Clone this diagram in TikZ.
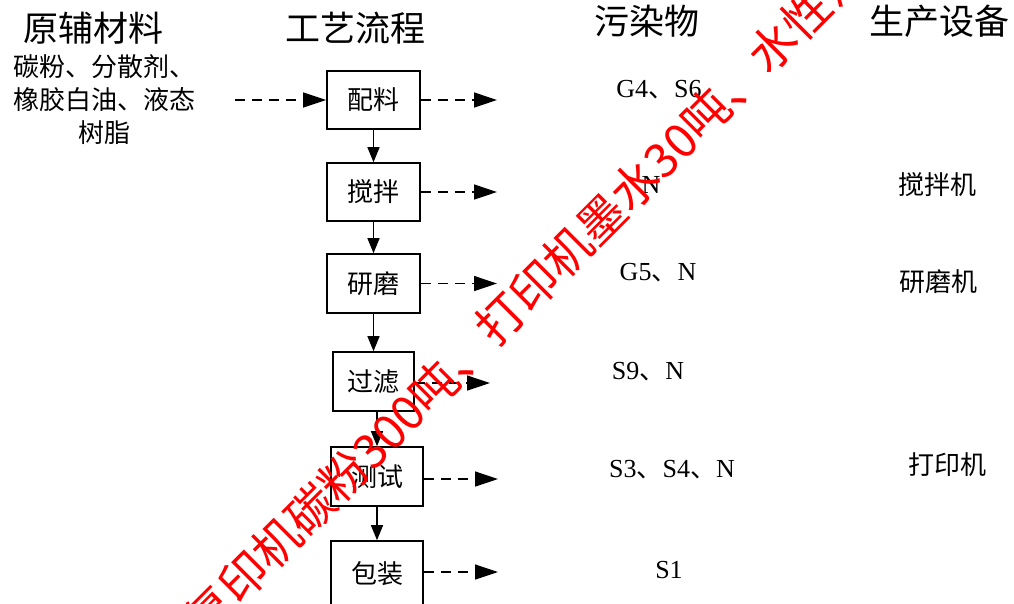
\documentclass[tikz,border=0pt]{standalone}
\usepackage{fontspec}
\setmainfont{Liberation Serif}
\newfontfamily\cjk{Noto Sans CJK SC}
\usetikzlibrary{arrows.meta}
\definecolor{wmred}{HTML}{FF0000}
\begin{document}
\begin{tikzpicture}[x=1pt,y=-1pt,
  proc/.style={draw,line width=1.6pt,minimum width=93pt,minimum height=58pt,inner sep=0pt,font=\cjk\fontsize{26}{26}\selectfont},
  flow/.style={line width=1.3pt,-{Triangle[length=15pt,width=12pt]}},
  outarr/.style={line width=1.3pt,dash pattern=on 10pt off 7pt,-{Triangle[length=23pt,width=15pt]}},
  head/.style={font=\cjk\fontsize{35}{35}\selectfont,inner sep=0pt},
  lab/.style={font=\fontsize{26}{26}\selectfont,inner sep=0pt},
  eq/.style={font=\cjk\fontsize{26}{26}\selectfont,inner sep=0pt},
  raw/.style={font=\cjk\fontsize{26}{33}\selectfont,inner sep=0pt,align=center},
  wm/.style={font=\cjk\fontsize{47.5}{47.5}\selectfont,text=wmred,inner sep=0pt,rotate=45,anchor=west}]
\useasboundingbox (0,0) rectangle (1014,603);
\clip (0,0) rectangle (1014,603);
\fill[white] (0,0) rectangle (1014,603);

% headers
\node[head] (h1) at (93.5,28) {原辅材料};
\node[head] (h2) at (355,28) {工艺流程};
\node[head] (h3) at (647,21) {污染物};
\node[head] (h4) at (939,21) {生产设备};

% raw materials
\node[raw] (rawm) at (104,100) {碳粉、分散剂、\\橡胶白油、液态\\树脂};
\coordinate (rin) at (235,100);

% process boxes
\node[proc] (p1) at (373.5,100) {配料};
\node[proc] (p2) at (373.5,192) {搅拌};
\node[proc,minimum height=59pt] (p3) at (373.5,283.5) {研磨};
\node[proc,minimum width=81pt,minimum height=59pt] (p4) at (373.5,381.5) {过滤};
\node[proc,minimum width=92pt,minimum height=59pt] (p5) at (377,476.5) {测试};
\node[proc,minimum width=92pt,minimum height=66pt] (p6) at (377,574) {包装};

% flow arrows
\draw[outarr] (rin) -- (p1.west);
\draw[flow] (p1.south) -- (p2.north);
\draw[flow] (p2.south) -- (p3.north);
\draw[flow] (p3.south) -- (p4.north);
\draw[flow] (p5.north |- p4.south) -- (p5.north);
\draw[flow] (p5.south) -- (p5.south |- p6.north);

% pollutant arrows
\coordinate (o1) at (497,100);
\coordinate (o2) at (497,192);
\coordinate (o3) at (497,283.5);
\coordinate (o4) at (490,383);
\coordinate (o5) at (498,479);
\coordinate (o6) at (498,572);
\draw[outarr] (p1.east) -- (o1);
\draw[outarr] (p2.east) -- (o2);
\draw[outarr] (p3.east) -- (o3);
\draw[outarr] (p4.east |- o4) -- (o4);
\draw[outarr] (p5.east |- o5) -- (o5);
\draw[outarr] (p6.east |- o6) -- (o6);

% pollutants
\node[lab] (l1) at (659,90) {G4{\cjk 、}S6};
\node[lab] (l2) at (651,185) {N};
\node[lab] (l3) at (658,273) {G5{\cjk 、}N};
\node[lab] (l4) at (648,372) {S9{\cjk 、}N};
\node[lab] (l5) at (672,470) {S3{\cjk 、}S4{\cjk 、}N};
\node[lab] (l6) at (669,570) {S1};

% equipment
\node[eq] (e1) at (937,185) {搅拌机};
\node[eq] (e2) at (938,282) {研磨机};
\node[eq] (e3) at (947,465) {打印机};

% watermark
\node[wm] (wmk) at (192.6,627.4) {复印机碳粉300吨、打印机墨水30吨、水性油墨};
\end{tikzpicture}
\end{document}
